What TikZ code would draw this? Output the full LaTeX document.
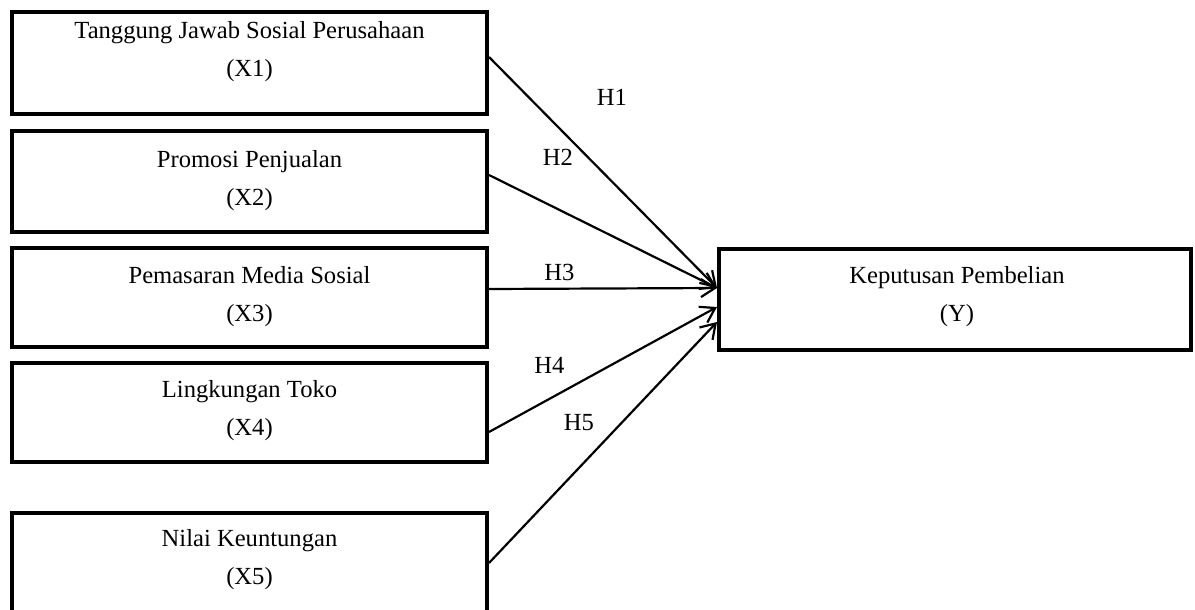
\documentclass[tikz,border=0pt]{standalone}
\usepackage{fontspec}
\setmainfont{Liberation Serif}
\usetikzlibrary{arrows.meta,calc}
\begin{document}
\begin{tikzpicture}[x=1pt,y=-1pt,
  box/.style={draw, line width=4pt, inner sep=0pt, minimum width=475pt},
  txt/.style={font=\fontsize{24.6}{38}\selectfont, align=center, inner sep=0pt},
  hyp/.style={font=\fontsize{24.6}{30}\selectfont, inner sep=0pt},
  arr/.style={line width=2.2pt, -{Straight Barb[length=14pt,width=18pt]}}]
\useasboundingbox (0,0) rectangle (1195,610);
\clip (0,0) rectangle (1195,610);
% boxes
\node[box, minimum height=102pt] (X1) at (249.5,63) {};
\node[box, minimum height=101pt] (X2) at (249.5,181.5) {};
\node[box, minimum height=99pt] (X3) at (249.5,297.5) {};
\node[box, minimum height=99pt] (X4) at (249.5,412.5) {};
\node[box, minimum height=104pt] (X5) at (249.5,565) {};
\node[box, minimum width=472pt, minimum height=101pt] (Y) at (955,299.5) {};
% texts
\node[txt] (t1) at (249.5,51.5) {Tanggung Jawab Sosial Perusahaan\\(X1)};
\node[txt] (t2) at (249.5,181) {Promosi Penjualan\\(X2)};
\node[txt] (t3) at (249.5,296.5) {Pemasaran Media Sosial\\(X3)};
\node[txt] (t4) at (249.5,410.5) {Lingkungan Toko\\(X4)};
\node[txt] (t5) at (249.5,559.5) {Nilai Keuntungan\\(X5)};
\node[txt] (ty) at (957,296.5) {Keputusan Pembelian\\(Y)};
% connectors
\draw[arr] ($(X1.east)+(0,-6)$) -- ($(Y.west)+(0,-11.5)$);
\draw[arr] ($(X2.east)+(0,-6.5)$) -- ($(Y.west)+(0,-11.5)$);
\draw[arr] ($(X3.east)+(0,-8.5)$) -- ($(Y.west)+(0,-11.5)$);
\draw[arr] ($(X4.east)+(0,19.5)$) -- ($(Y.west)+(0,7.5)$);
\draw[arr] ($(X5.east)+(0,-2)$) -- ($(Y.west)+(0,22.5)$);
% labels
\node[hyp] (h1) at (612,97) {H1};
\node[hyp] (h2) at (558,157) {H2};
\node[hyp] (h3) at (559.5,272.5) {H3};
\node[hyp] (h4) at (549.5,365) {H4};
\node[hyp] (h5) at (579,423) {H5};
\end{tikzpicture}
\end{document}
